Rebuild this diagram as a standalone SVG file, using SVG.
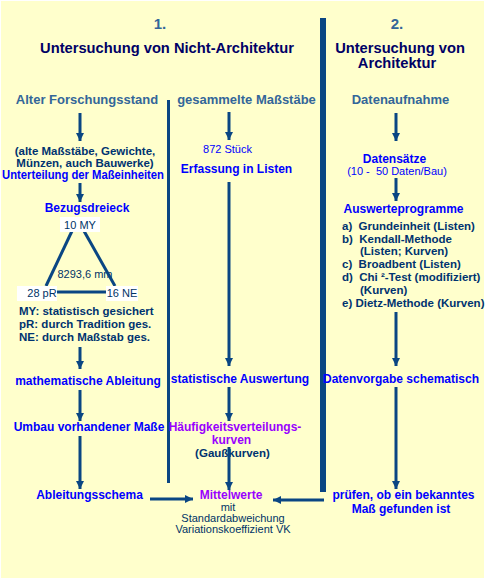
<svg xmlns="http://www.w3.org/2000/svg" width="486" height="580" viewBox="0 0 486 580">
<defs>
<style>
text{font-family:"Liberation Sans",Arial,sans-serif;}
.t{font-weight:bold;fill:#000066;font-size:14.7px;text-anchor:middle}
.n{font-weight:bold;fill:#336699;font-size:15px;text-anchor:middle}
.h{font-weight:bold;fill:#336699;font-size:13px;text-anchor:middle}
.b{font-weight:bold;fill:#0000FF;font-size:12px;text-anchor:middle}
.d{font-weight:bold;fill:#003370;font-size:11.5px}
.p{font-weight:bold;fill:#9900FF;font-size:12px;text-anchor:middle}
.r{fill:#003366;font-size:11px;text-anchor:middle}
.rb{fill:#0000FF;font-size:11px;text-anchor:middle}
.c{stroke:#0A4683;stroke-width:3;fill:none}
.lbl{fill:#FFFFFF}
</style>
<marker id="ah" markerUnits="userSpaceOnUse" markerWidth="9" markerHeight="9" refX="8" refY="4.5" orient="auto">
<path d="M0,0.5 L8,4.5 L0,8.5 z" fill="#0A4683"/>
</marker>
</defs>
<rect x="0" y="0" width="486" height="580" fill="#FFFFFF"/>
<rect x="1" y="1" width="483" height="577" fill="#FFFFCC"/>

<g id="dividers" fill="#0A4683">
<rect x="320" y="18" width="6" height="474"/>
<rect x="167" y="100" width="3" height="383"/>
</g>

<g id="header1">
<text class="n" x="160" y="29">1.</text>
<text class="t" x="167" y="53">Untersuchung von Nicht-Architektur</text>
</g>
<g id="header2">
<text class="n" x="397" y="29">2.</text>
<text class="t" x="400" y="53">Untersuchung von</text>
<text class="t" x="397" y="68">Architektur</text>
</g>

<g id="alter-forschungsstand"><text class="h" x="87" y="104">Alter Forschungsstand</text></g>
<g id="unterteilung">
<text class="d" x="85" y="155" text-anchor="middle" font-size="12">(alte Maßstäbe, Gewichte,</text>
<text class="d" x="85" y="167" text-anchor="middle" font-size="12">Münzen, auch Bauwerke)</text>
<text class="b" x="83" y="179" textLength="162" lengthAdjust="spacingAndGlyphs">Unterteilung der Maßeinheiten</text>
</g>
<g id="bezugsdreieck"><text class="b" x="87" y="212">Bezugsdreieck</text></g>
<g id="triangle">
<text class="r" x="85" y="278">8293,6 mm</text>
<line class="c" x1="72" y1="231" x2="46" y2="286"/>
<line class="c" x1="84" y1="231" x2="115" y2="286"/>
<line class="c" x1="55" y1="292" x2="108" y2="292"/>
</g>
<g id="my"><rect class="lbl" x="60" y="217" width="40" height="15"/><text class="r" x="80" y="229">10 MY</text></g>
<g id="pr"><rect class="lbl" x="17" y="286" width="40" height="15"/><text class="r" x="42" y="297">28 pR</text></g>
<g id="ne"><rect class="lbl" x="106" y="286" width="32" height="15"/><text class="r" x="122" y="297">16 NE</text></g>
<g id="legende">
<text class="d" x="19" y="315">MY: statistisch gesichert</text>
<text class="d" x="19" y="328">pR: durch Tradition ges.</text>
<text class="d" x="19" y="341">NE: durch Maßstab ges.</text>
</g>
<g id="ableitung"><text class="b" x="88" y="385">mathematische Ableitung</text></g>
<g id="umbau"><text class="b" x="89" y="431">Umbau vorhandener Maße</text></g>
<g id="ableitungsschema"><text class="b" x="89.5" y="499">Ableitungsschema</text></g>

<g id="gesammelte-massstaebe"><text class="h" x="246.5" y="104">gesammelte Maßstäbe</text></g>
<g id="erfassung">
<text class="rb" x="227.5" y="153">872 Stück</text>
<text class="b" x="236.5" y="173">Erfassung in Listen</text>
</g>
<g id="statistische-auswertung"><text class="b" x="240" y="383">statistische Auswertung</text></g>
<g id="haeufigkeit">
<text class="p" x="235" y="431">Häufigkeitsverteilungs-</text>
<text class="p" x="231.5" y="444">kurven</text>
<text class="d" x="232.5" y="457" text-anchor="middle" font-size="12">(Gaußkurven)</text>
</g>
<g id="mittelwerte">
<text class="p" x="231" y="499">Mittelwerte</text>
<text class="r" x="228" y="511">mit</text>
<text class="r" x="233" y="522">Standardabweichung</text>
<text class="r" x="233" y="533">Variationskoeffizient VK</text>
</g>

<g id="datenaufnahme"><text class="h" x="400.5" y="104">Datenaufnahme</text></g>
<g id="datensaetze">
<text class="b" x="394.5" y="163">Datensätze</text>
<text class="rb" x="397" y="175" xml:space="preserve">(10 -  50 Daten/Bau)</text>
</g>
<g id="auswerteprogramme">
<text class="b" x="403.5" y="213">Auswerteprogramme</text>
<text class="d" x="342" y="230" xml:space="preserve">a)  Grundeinheit (Listen)</text>
<text class="d" x="342" y="243" xml:space="preserve">b)  Kendall-Methode</text>
<text class="d" x="360" y="255">(Listen; Kurven)</text>
<text class="d" x="342" y="268" xml:space="preserve">c)  Broadbent (Listen)</text>
<text class="d" x="342" y="281" xml:space="preserve">d)  Chi ²-Test (modifiziert)</text>
<text class="d" x="360" y="294">(Kurven)</text>
<text class="d" x="342" y="307">e) Dietz-Methode (Kurven)</text>
</g>
<g id="datenvorgabe"><text class="b" x="401" y="383" font-size="11.7">Datenvorgabe schematisch</text></g>
<g id="pruefen">
<text class="b" x="403.5" y="499">prüfen, ob ein bekanntes</text>
<text class="b" x="401" y="513">Maß gefunden ist</text>
</g>

<g id="connectors">
<line class="c" x1="80" y1="113" x2="80" y2="141" marker-end="url(#ah)"/>
<line class="c" x1="80" y1="183" x2="80" y2="202" marker-end="url(#ah)"/>
<line class="c" x1="80" y1="347" x2="80" y2="369" marker-end="url(#ah)"/>
<line class="c" x1="80" y1="390" x2="80" y2="421" marker-end="url(#ah)"/>
<line class="c" x1="80" y1="436" x2="80" y2="489" marker-end="url(#ah)"/>
<line class="c" x1="229" y1="112" x2="229" y2="140" marker-end="url(#ah)"/>
<line class="c" x1="229" y1="182" x2="229" y2="366" marker-end="url(#ah)"/>
<line class="c" x1="229" y1="387" x2="229" y2="421" marker-end="url(#ah)"/>
<line class="c" x1="229" y1="447" x2="229" y2="490" marker-end="url(#ah)"/>
<line class="c" x1="396" y1="113" x2="396" y2="141" marker-end="url(#ah)"/>
<line class="c" x1="396" y1="178" x2="396" y2="201" marker-end="url(#ah)"/>
<line class="c" x1="396" y1="312" x2="396" y2="366" marker-end="url(#ah)"/>
<line class="c" x1="396" y1="387" x2="396" y2="489" marker-end="url(#ah)"/>
<line class="c" x1="150" y1="499" x2="193" y2="499" marker-end="url(#ah)"/>
<line class="c" x1="324" y1="500" x2="273" y2="500" stroke-width="2.5" marker-end="url(#ah)"/>
</g>
</svg>
